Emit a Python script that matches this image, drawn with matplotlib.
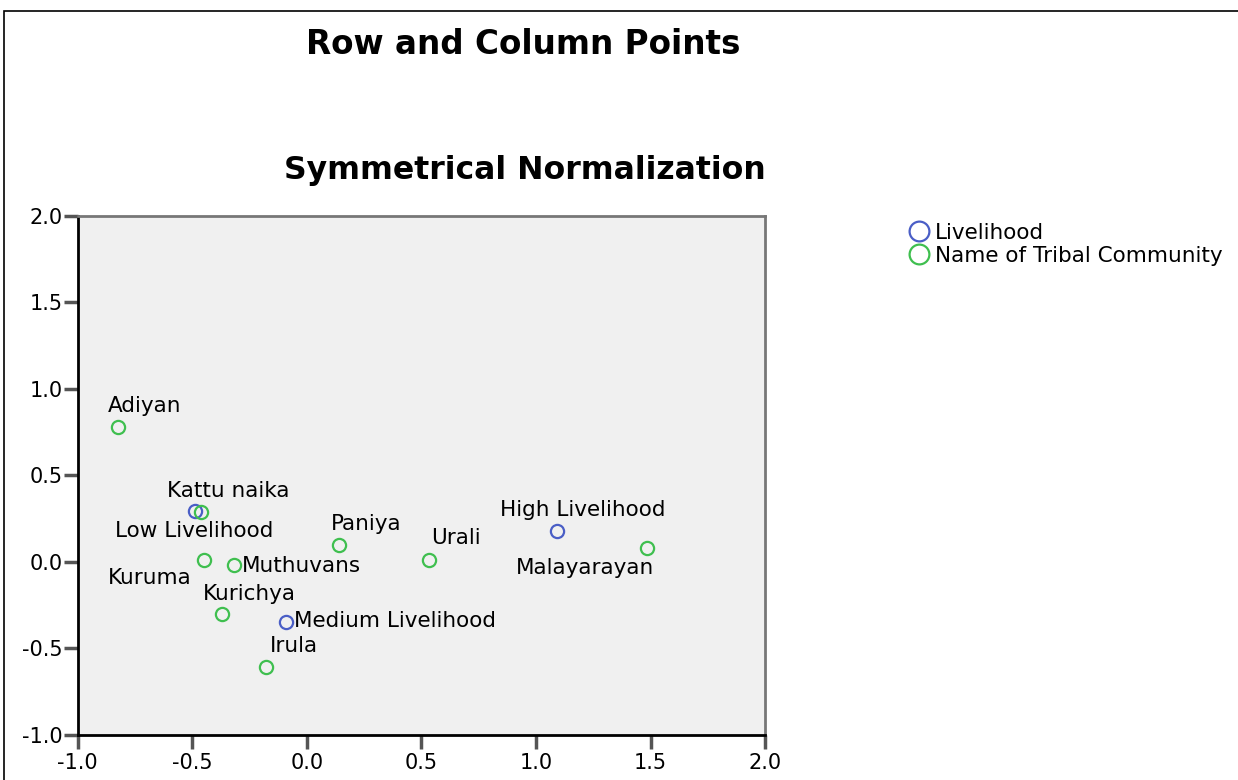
import numpy as np
import matplotlib
matplotlib.use("Agg")
import matplotlib.pyplot as plt
from matplotlib.patches import Rectangle

plt.rcParams['font.family'] = ['DejaVu Sans']

# Row points (Livelihood)
row_names = ["Low Livelihood", "Medium Livelihood", "High Livelihood"]
row_x = [-0.49, -0.09, 1.09]
row_y = [0.295, -0.345, 0.18]

# Column points (Name of Tribal Community)
col_names = ["Adiyan", "Kattu naika", "Kuruma", "Muthuvans", "Paniya",
             "Kurichya", "Irula", "Urali", "Malayarayan"]
col_x = [-0.825, -0.46, -0.45, -0.32, 0.14, -0.37, -0.18, 0.535, 1.485]
col_y = [0.78, 0.29, 0.01, -0.02, 0.10, -0.30, -0.61, 0.01, 0.08]

# label offsets in pixels (dx, dy) and horizontal alignment
row_offsets = [(0, -20, 'center'), (8, 1, 'left'), (26, 21, 'center')]
col_offsets = [(27, 21, 'center'), (27, 21, 'center'), (-54, -18, 'center'),
               (8, -1, 'left'), (27, 21, 'center'), (27, 20, 'center'),
               (28, 21, 'center'), (26, 22, 'center'), (-62, -20, 'center')]

blue = '#4a5ec6'
green = '#3fbf4f'
fs = 15.5

fig = plt.figure(figsize=(12.38, 7.8), dpi=100)
ax = fig.add_axes([0.0628, 0.0577, 0.5553, 0.6658])
ax.set_facecolor('#f0f0f0')

# frame around the whole figure area
fig.patches.append(Rectangle((4 / 1238, -0.1), 1.2, (780 - 11) / 780 + 0.1,
                             transform=fig.transFigure, fill=False,
                             edgecolor='black', linewidth=1.2))

ax.plot(row_x, row_y, 'o', markerfacecolor='none', markeredgecolor=blue,
        markersize=9.5, markeredgewidth=1.6, label='Livelihood', zorder=3)
ax.plot(col_x, col_y, 'o', markerfacecolor='none', markeredgecolor=green,
        markersize=9.5, markeredgewidth=1.6, label='Name of Tribal Community', zorder=3)

for name, x, y, (dx, dy, ha) in zip(row_names, row_x, row_y, row_offsets):
    ax.annotate(name, (x, y), xytext=(dx * 0.72, dy * 0.72), textcoords='offset points',
                ha=ha, va='center', fontsize=fs)
for name, x, y, (dx, dy, ha) in zip(col_names, col_x, col_y, col_offsets):
    ax.annotate(name, (x, y), xytext=(dx * 0.72, dy * 0.72), textcoords='offset points',
                ha=ha, va='center', fontsize=fs)

ticks = np.arange(-1.0, 2.01, 0.5)
ax.set_xlim(-1.0, 2.0)
ax.set_ylim(-1.0, 2.0)
ax.set_xticks(ticks)
ax.set_yticks(ticks)
ax.set_xticklabels(['%.1f' % v for v in ticks])
ax.set_yticklabels(['%.1f' % v for v in ticks])
ax.tick_params(direction='out', length=10, width=2.5, color='#555555',
               labelsize=15, pad=1)
ax.tick_params(axis='x', pad=3)

ax.spines['left'].set_color('black')
ax.spines['bottom'].set_color('black')
ax.spines['left'].set_linewidth(2)
ax.spines['bottom'].set_linewidth(2)
ax.spines['top'].set_color('#777777')
ax.spines['right'].set_color('#777777')
ax.spines['top'].set_linewidth(2)
ax.spines['right'].set_linewidth(2)

fig.text(523 / 1238, 1 - 45 / 780, 'Row and Column Points', ha='center', va='center',
         fontsize=23.5, fontweight='bold')
fig.text(525 / 1238, 1 - 170 / 780, 'Symmetrical Normalization', ha='center', va='center',
         fontsize=22.7, fontweight='bold')

leg = fig.legend(loc='upper left', bbox_to_anchor=(894 / 1238, 1 - 214 / 780),
                 frameon=False, fontsize=fs, handletextpad=0.0, handlelength=1.5,
                 labelspacing=0.15, borderaxespad=0, markerscale=1.5)

fig.savefig('out.png', dpi=100)
